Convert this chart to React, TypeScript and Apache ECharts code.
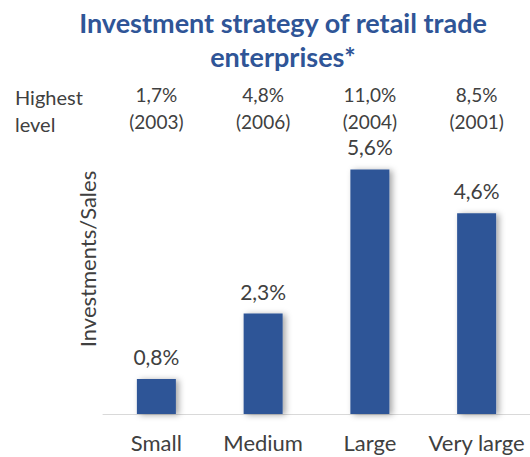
import React, { useEffect, useRef } from "react";
import * as echarts from "echarts";

const categories = ["Small", "Medium", "Large", "Very large"];
const values = [0.8, 2.3, 5.6, 4.6];
const highestValues = ["1,7%", "4,8%", "11,0%", "8,5%"];
const highestYears = ["(2003)", "(2006)", "(2004)", "(2001)"];
const titleText = "Investment strategy of retail trade\nenterprises*";
const yAxisName = "Investments/Sales";

const FONT = "Lato, 'Noto Sans', sans-serif";
const GRAY = "#404040";

export default function App() {
  const ref = useRef<HTMLDivElement>(null);
  useEffect(() => {
    document.body.style.margin = "0";
    if (!ref.current) return;
    const chart = echarts.init(ref.current, undefined, { renderer: "svg" });
    chart.setOption({
      animation: false,
      backgroundColor: "#ffffff",
      title: {
        text: titleText,
        left: 278,
        textAlign: "center",
        top: 0,
        textStyle: {
          fontFamily: FONT,
          fontSize: 27,
          fontWeight: "bold",
          color: "#2F5597",
          lineHeight: 34,
        },
      },
      graphic: [
        {
          type: "text",
          left: 15,
          top: 83,
          style: {
            text: "Highest\nlevel",
            fontFamily: FONT,
            fontSize: 20,
            lineHeight: 27,
            fill: GRAY,
          },
        },
        {
          type: "text",
          x: 87,
          y: 259,
          rotation: Math.PI / 2,
          style: {
            text: yAxisName,
            fontFamily: FONT,
            fontSize: 22,
            fill: GRAY,
            align: "center",
            verticalAlign: "middle",
          },
        },
      ],
      grid: { left: 103, width: 432, top: 152, bottom: 43 },
      xAxis: [
        {
          type: "category",
          data: categories,
          axisLine: { lineStyle: { color: "#D9D9D9", width: 1 } },
          axisTick: { show: false },
          axisLabel: {
            interval: 0,
            hideOverlap: false,
            fontFamily: FONT,
            fontSize: 22,
            color: GRAY,
            margin: 17,
          },
        },
        {
          type: "category",
          position: "top",
          data: categories.map((_, i) => highestValues[i] + "\n" + highestYears[i]),
          axisLine: { show: false },
          axisTick: { show: false },
          axisLabel: {
            interval: 0,
            hideOverlap: false,
            fontFamily: FONT,
            fontSize: 19,
            color: GRAY,
            lineHeight: 27,
            margin: 17,
          },
        },
      ],
      yAxis: {
        type: "value",
        min: 0,
        max: 6,
        axisLine: { show: false },
        axisTick: { show: false },
        axisLabel: { show: false },
        splitLine: { show: false },
      },
      series: [
        {
          type: "bar",
          xAxisIndex: 0,
          data: values,
          barWidth: 39,
          itemStyle: {
            color: "#2F5597",
            shadowColor: "rgba(0,0,0,0.35)",
            shadowBlur: 6,
            shadowOffsetX: 3,
            shadowOffsetY: 1,
          },
          label: {
            show: true,
            position: "top",
            distance: 12,
            fontFamily: FONT,
            fontSize: 21,
            color: GRAY,
            formatter: (p: any) => p.value.toFixed(1).replace(".", ",") + "%",
          },
        },
      ],
    });
    return () => chart.dispose();
  }, []);
  return <div ref={ref} style={{ width: 530, height: 457 }} />;
}
